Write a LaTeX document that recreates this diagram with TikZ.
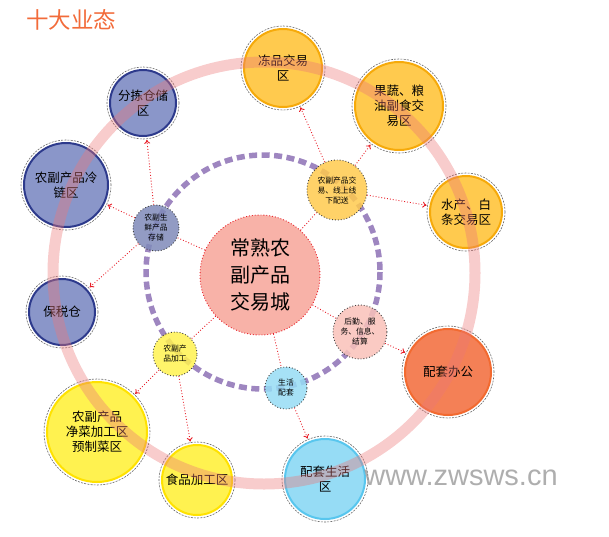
\documentclass[tikz,border=0pt]{standalone}
\usepackage{fontspec}
\setmainfont{Noto Sans CJK SC}
\setsansfont{Liberation Sans}
\usepackage{tikz}
\usetikzlibrary{arrows.meta,calc}

\definecolor{titleorange}{RGB}{242,107,58}
\definecolor{goldfill}{RGB}{255,202,78}
\definecolor{golddraw}{RGB}{246,170,10}
\definecolor{officefill}{RGB}{244,128,86}
\definecolor{officedraw}{RGB}{242,106,48}
\definecolor{skyfill}{RGB}{150,220,245}
\definecolor{skydraw}{RGB}{88,198,238}
\definecolor{lemonfill}{RGB}{255,242,80}
\definecolor{lemondraw}{RGB}{255,226,0}
\definecolor{navyfill}{RGB}{138,150,201}
\definecolor{navydraw}{RGB}{45,58,140}
\definecolor{cityfill}{RGB}{248,178,168}
\definecolor{linkred}{RGB}{232,30,40}
\definecolor{ringpink}{RGB}{236,120,120}
\definecolor{ringpurple}{RGB}{158,134,192}

\begin{document}
\begin{tikzpicture}[x=1pt,y=-1pt,
  every node/.style={inner sep=0pt,align=center},
  zone/.style={circle,line width=2pt,font=\fontsize{12.5}{15}\selectfont},
  hub/.style={circle,draw=black!75,dotted,line width=0.9pt,fill opacity=0.85,
    text opacity=1,font=\fontsize{7.8}{10}\selectfont},
  link/.style={linkred,dotted,line width=0.9pt},
  feed/.style={link,-{To[length=4pt,width=6pt]},shorten >=3pt}]
\useasboundingbox (0,0) rectangle (609,536);

\node[titleorange,font=\fontsize{22.5}{26}\selectfont] (title) at (71,20) {十大业态};

% purple inner ring
\draw[ringpurple,line width=5.5pt,dash pattern=on 8pt off 4.5pt] (263,272) circle (117);

% outer zones
\node[zone,fill=goldfill,draw=golddraw,minimum size=78] (dongpin) at (283,68) {冻品交易\\区};
\node[zone,fill=goldfill,draw=golddraw,minimum size=88] (guoshu) at (399,106) {果蔬、粮\\油副食交\\易区};
\node[zone,fill=goldfill,draw=golddraw,minimum size=72] (shuichan) at (466,212) {水产、白\\条交易区};
\node[zone,fill=officefill,draw=officedraw,minimum size=86] (bangong) at (448,372) {配套办公};
\node[zone,fill=skyfill,draw=skydraw,minimum size=80] (shenghuo) at (325,479) {配套生活\\区};
\node[zone,fill=lemonfill,draw=lemondraw,minimum size=70] (shipin) at (197,480) {食品加工区};
\node[zone,fill=lemonfill,draw=lemondraw,minimum size=100] (jingcai) at (97,432) {农副产品\\净菜加工区\\预制菜区};
\node[zone,fill=navyfill,draw=navydraw,minimum size=66] (baoshui) at (62,312) {保税仓};
\node[zone,fill=navyfill,draw=navydraw,minimum size=84] (lenglian) at (66,185) {农副产品冷\\链区};
\node[zone,fill=navyfill,draw=navydraw,minimum size=66] (fenjian) at (143,103) {分拣仓储\\区};

% dashed halo round each zone
\foreach \z in {dongpin,guoshu,shuichan,bangong,shenghuo,shipin,jingcai,baoshui,lenglian,fenjian}
  \draw[black!60,line width=0.6pt,dash pattern=on 2pt off 1.2pt]
    let \p1=(\z.east), \p2=(\z.center) in (\z.center) circle[radius=\x1-\x2+2pt];

% centre
\node[circle,fill=cityfill,draw=linkred,dotted,line width=0.9pt,minimum size=120,
  font=\fontsize{20}{27}\selectfont] (city) at (260,275) {常熟农\\副产品\\交易城};

% hubs
\node[hub,fill=navyfill!92!black,minimum size=46] (cunchu) at (156,228) {农副生\\鲜产品\\存储};
\node[hub,fill=goldfill,minimum size=60] (peisong) at (337,190) {农副产品交\\易、线上线\\下配送};
\node[hub,fill=cityfill!80!white,minimum size=54] (houqin) at (360,332) {后勤、服\\务、信息、\\结算};
\node[hub,fill=lemonfill,minimum size=44] (jiagong) at (175,354) {农副产\\品加工};
\node[hub,fill=skyfill,minimum size=42] (peitao) at (286,388) {生活\\配套};

% links from the centre
\foreach \h in {cunchu,peisong,houqin,jiagong,peitao}
  \draw[link] (city) -- (\h);

% links out to the zones
\draw[feed] (cunchu) -- (fenjian);
\draw[feed] (cunchu) -- (lenglian);
\draw[feed] (cunchu) -- (baoshui);
\draw[feed] (peisong) -- (dongpin);
\draw[feed] (peisong) -- (guoshu);
\draw[feed] (peisong) -- (shuichan);
\draw[feed] (houqin) -- (bangong);
\draw[feed] (jiagong) -- (jingcai);
\draw[feed] (jiagong) -- (shipin);
\draw[feed] (peitao) -- (shenghuo);

% pink outer ring
\draw[ringpink,opacity=0.38,line width=11pt] (264,273) circle (211);

\node[black!45,opacity=0.7,font=\sffamily\fontsize{29}{30}\selectfont] (mark) at (461,478) {www.zwsws.cn};
\end{tikzpicture}
\end{document}
